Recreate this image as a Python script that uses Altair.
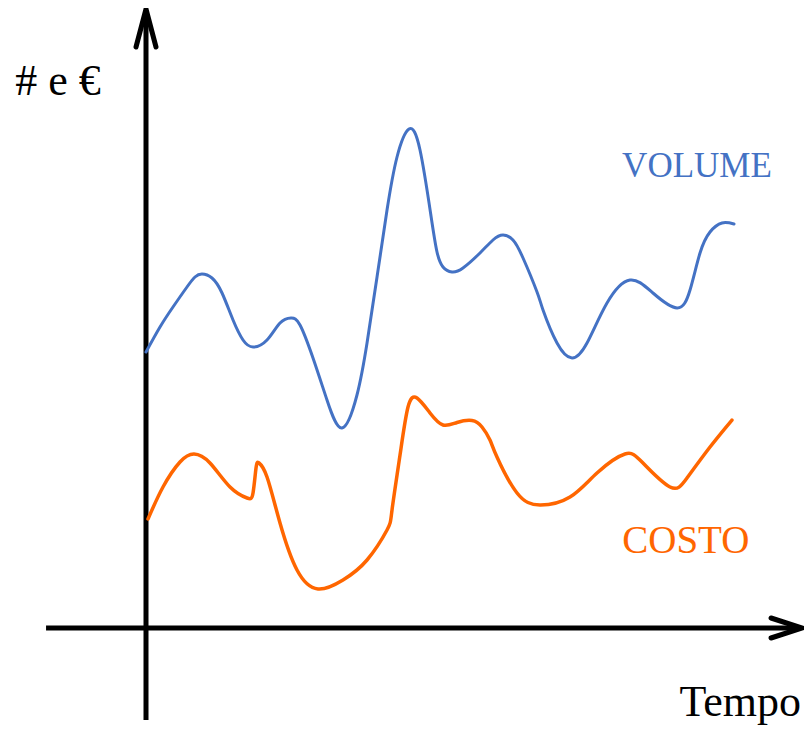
import altair as alt
import pandas as pd

# ---- data (time units 0..100, value units) ----
vol_t = [0, 2.38, 4.59, 6.97, 8.33, 9.52, 11.22, 12.93, 14.80, 16.50, 18.20, 20.58,
         22.79, 24.66, 26.19, 28.40, 30.78, 33.33, 35.88, 37.59, 39.29, 40.99, 42.69,
         44.73, 46.60, 48.47, 49.49, 50.51, 52.04, 53.91, 56.80, 59.01, 60.71, 62.41,
         64.12, 66.50, 67.52, 69.90, 72.45, 75.0, 78.40, 82.31, 86.22, 90.31, 92.52,
         94.22, 95.92, 97.96, 100]
vol_v = [55.2, 60.2, 64.2, 68.2, 70.2, 70.8, 70, 67, 61.6, 57.6, 56.2, 57.6,
         61, 62, 60.6, 54, 45.6, 40, 46.6, 57, 70.2, 83.6, 94.2,
         99.8, 95.6, 82.4, 75.2, 72.2, 71.2, 72, 75, 77.6, 78.6, 77.6,
         74, 67.2, 63.6, 57, 54, 57, 65, 69.6, 67, 64, 67.6,
         75, 79.2, 81, 80.8]

cost_t = [0.34, 2.89, 5.78, 8.16, 10.88, 14.29, 17.18, 18.20, 18.71, 19.22, 20.58,
          22.79, 25.68, 29.25, 33.50, 37.59, 40.99, 41.84, 43.20, 44.56, 46.09, 48.30,
          50.51, 52.89, 55.44, 57.14, 58.50, 59.69, 63.10, 67.01, 72.11, 76.70, 81.46,
          84.52, 89.12, 92.01, 95.92, 99.66]
cost_v = [21.8, 28.2, 33.2, 34.8, 33, 28.2, 26, 27, 32, 33, 30.2,
          21, 11.6, 7.8, 9.6, 13.6, 19.6, 23.6, 34.6, 44.2, 46, 43,
          40.6, 41.1, 41.5, 40.2, 37.6, 34.2, 27, 24.6, 26.2, 31, 34.8,
          33, 28.2, 30, 36.2, 41.6]

series_labels = ["VOLUME", "COSTO"]
y_label = "# e €"
x_label = "Tempo"

BLUE = "#4472C4"
ORANGE = "#FF6600"
FONT = "Liberation Serif"

# ---- layout ----
W, H = 796, 717
x_dom = [-23.47, -23.47 + W / 5.88]
y_dom = [124 - H / 5.0, 124]
xs = alt.Scale(domain=x_dom, nice=False, zero=False)
ys = alt.Scale(domain=y_dom, nice=False, zero=False)

vol_df = pd.DataFrame({"t": vol_t, "v": vol_v})
cost_df = pd.DataFrame({"t": cost_t, "v": cost_v})

def curve(df, color, sw):
    return alt.Chart(df).mark_line(
        color=color, strokeWidth=sw, interpolate="natural", strokeCap="round"
    ).encode(
        x=alt.X("t:Q", scale=xs, axis=None),
        y=alt.Y("v:Q", scale=ys, axis=None),
    )

axes_df = pd.DataFrame({
    "x0": [0, -17.0], "x1": [0, 111.2],
    "y0": [-18.4, 0], "y1": [123.4, 0],
})
axes = alt.Chart(axes_df).mark_rule(color="black", strokeWidth=5).encode(
    x=alt.X("x0:Q", scale=xs, axis=None), x2="x1:Q",
    y=alt.Y("y0:Q", scale=ys, axis=None), y2="y1:Q",
)

arrow_df = pd.DataFrame({
    "t": [-1.7, 0, 1.7, 106.3, 111.56, 106.3],
    "v": [116.2, 123.8, 116.2, 2.0, 0, -2.0],
    "g": ["up", "up", "up", "right", "right", "right"],
    "o": [0, 1, 2, 0, 1, 2],
})
arrows = alt.Chart(arrow_df).mark_line(
    color="black", strokeWidth=5, strokeCap="round", strokeJoin="miter"
).encode(
    x=alt.X("t:Q", scale=xs, axis=None),
    y=alt.Y("v:Q", scale=ys, axis=None),
    detail="g:N", order="o:Q",
)

text_df = pd.DataFrame({
    "t": [-14.97, 93.7, 91.8, 111.4],
    "v": [106.6, 90.2, 15.0, -17.6],
    "label": [y_label, series_labels[0], series_labels[1], x_label],
})

def txt(i, color, size, align):
    return alt.Chart(text_df.iloc[[i]]).mark_text(
        font=FONT, fontSize=size, color=color, align=align, baseline="alphabetic"
    ).encode(
        x=alt.X("t:Q", scale=xs, axis=None),
        y=alt.Y("v:Q", scale=ys, axis=None),
        text="label:N",
    )

chart = alt.layer(
    axes, arrows,
    curve(vol_df, BLUE, 3), curve(cost_df, ORANGE, 3.5),
    txt(0, "black", 44, "center"),
    txt(1, BLUE, 35, "center"),
    txt(2, ORANGE, 39, "center"),
    txt(3, "black", 44, "right"),
).properties(
    width=W, height=H, padding=0, background="white",
    autosize=alt.AutoSizeParams(type="none"),
).configure_view(stroke=None)

chart.save("out.html", embed_options={"renderer": "svg", "actions": False})
